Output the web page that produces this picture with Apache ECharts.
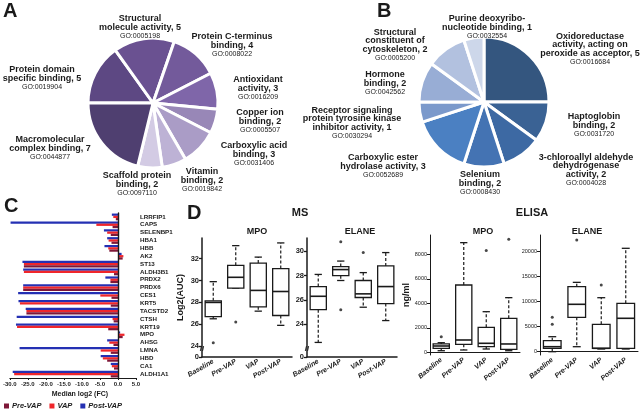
<!DOCTYPE html>
<html>
<head>
<meta charset="utf-8">
<script src="https://cdn.jsdelivr.net/npm/echarts@6/dist/echarts.min.js"></script>
<style>
  html, body { margin: 0; padding: 0; background: #fff; }
  #main { width: 640px; height: 412px; }
</style>
</head>
<body>
<div id="main"></div>
<script>
// ---- panel A: GO molecular function (pie) ----
const pieANames = ['Protein domain\nspecific binding', 'Structural\nmolecule activity', 'Protein C-terminus\nbinding',
  'Antioxidant\nactivity', 'Copper ion\nbinding', 'Carboxylic acid\nbinding', 'Vitamin\nbinding',
  'Scaffold protein\nbinding', 'Macromolecular\ncomplex binding'];
const pieACounts = [5, 5, 4, 3, 2, 3, 2, 2, 7];
const pieAGo = ['GO:0019904', 'GO:0005198', 'GO:0008022', 'GO:0016209', 'GO:0005507', 'GO:0031406',
  'GO:0019842', 'GO:0097110', 'GO:0044877'];

// ---- panel B ----
const pieBNames = ['Oxidoreductase\nactivity, acting on\nperoxide as acceptor', 'Haptoglobin\nbinding',
  '3-chloroallyl aldehyde\ndehydrogenase\nactivity', 'Selenium\nbinding', 'Carboxylic ester\nhydrolase activity',
  'Receptor signaling\nprotein tyrosine kinase\ninhibitor activity', 'Hormone\nbinding',
  'Structural\nconstituent of\ncytoskeleton', 'Purine deoxyribo-\nnucleotide binding'];
const pieBCounts = [5, 2, 2, 2, 3, 1, 2, 2, 1];
const pieBGo = ['GO:0016684', 'GO:0031720', 'GO:0004028', 'GO:0008430', 'GO:0052689', 'GO:0030294',
  'GO:0042562', 'GO:0005200', 'GO:0032554'];

// ---- panel C: median log2 fold change ----
const genes = ['LRRFIP1', 'CAPS', 'SELENBP1', 'HBA1', 'HBB', 'AK2', 'ST13', 'ALDH3B1', 'PRDX2', 'PRDX6', 'CES1',
  'KRT5', 'TACSTD2', 'CTSH', 'KRT19', 'MPO', 'AHSG', 'LMNA', 'HBD', 'CA1', 'ALDH1A1'];
const preVap = [-0.6, -1.5, -2.0, -1.8, -2.4, 1.3, -26.1, -1.1, -2.1, -26.3, -1.8, -2.0, -25.4, -1.2, -2.7, 1.3, -1.25, -2.0, -3.0, -1.1, -2.0];
const vap = [-1.3, -6.0, -3.0, -2.6, -2.7, 1.5, -26.1, -26.1, -2.1, -26.3, -4.9, -27.2, -25.4, -1.5, -28.0, 1.8, -2.4, -4.8, -4.2, -1.7, -28.8];
const postVap = [-1.7, -29.8, -3.9, -3.0, -3.75, 1.0, -26.5, -26.3, -3.5, -26.3, -27.7, -27.6, -25.6, -28.1, -28.3, 0.6, -3.0, -27.3, -4.8, -2.0, -29.2];

// ---- panel D: box plots [low, q1, median, q3, high] ----
const groups = ['Baseline', 'Pre-VAP', 'VAP', 'Post-VAP'];
const msMpoBox = [[26.5, 26.7, 28.0, 28.15, 29.9], [29.3, 29.3, 30.3, 31.4, 33.2], [27.2, 27.6, 29.1, 31.6, 32.15], [25.9, 26.8, 29.0, 31.1, 33.45]];
const msMpoOut = [[0, 24.3], [1, 26.2]];
const msElaneBox = [[22.5, 25.2, 26.3, 27.1, 28.1], [27.6, 28.0, 28.5, 28.75, 29.2], [25.4, 26.2, 26.5, 27.6, 28.25], [24.3, 25.7, 27.1, 28.8, 29.9]];
const msElaneOut = [[1, 30.8], [1, 25.2], [2, 29.9]];
const elisaMpoBox = [[130, 325, 515, 680, 785], [190, 650, 1005, 5495, 8950], [270, 460, 735, 2040, 3315], [130, 245, 680, 2775, 4460]];
const elisaMpoOut = [[0, 1275], [2, 8300], [3, 9220]];
const elisaElaneBox = [[0, 680, 1000, 2200, 3000], [1000, 6880, 9480, 13000, 13870], [540, 680, 680, 5480, 10800], [540, 680, 6680, 9680, 20680]];
const elisaElaneOut = [[0, 6870], [0, 5480], [1, 22340], [2, 13340]];

// first tick of the MS axes sits on the axis break and reads "0"
const msMpoTicks = [23, 24, 26, 28, 30, 32];
const msElaneTicks = [21.3, 24, 26, 28, 30];
const elisaMpoTicks = [0, 2000, 4000, 6000, 8000];
const elisaElaneTicks = [0, 5000, 10000, 15000, 20000];

const FONT = '"Liberation Sans", Arial, sans-serif';
const NARROW = '"Liberation Sans Narrow", "Liberation Sans", Arial, sans-serif';
const INK = '#1a1a1a';

const pieAColors = ['#5d4883', '#6a5191', '#735a9b', '#7f66a9', '#9887b7', '#aa9cc6', '#bdb2d5', '#d3cbe4', '#4f3f70'];
const pieBColors = ['#34567f', '#3a6294', '#3d69a3', '#4473b3', '#4b80c2', '#7b99cb', '#98add5', '#b2c1df', '#cdd7ea'];
// label anchors (centre of the text block)
const pieALabelPos = [[42, 78], [140, 27], [232, 45], [258, 88], [260, 121], [254, 154], [202, 180], [137, 184], [50, 148]];
const pieBLabelPos = [[590, 49], [594, 125], [586, 170], [480, 183], [383, 166], [352, 123], [385, 83], [395, 45], [487, 27]];

const chart = echarts.init(document.getElementById('main'), null, { renderer: 'canvas' });

function pieLabel(go) {
  return function (p) {
    const lines = p.name.split('\n');
    lines[lines.length - 1] += ', ' + p.value;
    return lines.map(l => '{n|' + l + '}').join('\n') + '\n{g|' + go[p.dataIndex] + '}';
  };
}
const pieRich = {
  n: { fontFamily: FONT, fontSize: 9, fontWeight: 'bold', lineHeight: 8.7, color: INK, align: 'center' },
  g: { fontFamily: FONT, fontSize: 7, lineHeight: 8.3, color: INK, align: 'center' }
};

function pieSeries(names, counts, colors, go, pos, center, start) {
  return {
    type: 'pie', center: center, radius: 65, startAngle: start, clockwise: true,
    avoidLabelOverlap: false, silent: true,
    data: names.map((n, i) => ({ name: n, value: counts[i], itemStyle: { color: colors[i] } })),
    itemStyle: { borderColor: '#fff', borderWidth: 3 },
    label: { show: true, position: 'outside', formatter: pieLabel(go), rich: pieRich },
    labelLine: { show: false },
    labelLayout: function (p) {
      return { x: pos[p.dataIndex][0], y: pos[p.dataIndex][1], align: 'center', verticalAlign: 'middle' };
    }
  };
}

function boxItem(params, api) {
  const c = api.value(0);
  const lo = api.coord([c, api.value(1)]);
  const q1 = api.coord([c, api.value(2)]);
  const md = api.coord([c, api.value(3)]);
  const q3 = api.coord([c, api.value(4)]);
  const hi = api.coord([c, api.value(5)]);
  const bw = api.size([1, 0])[0] * 0.72;
  const cap = bw * 0.45;
  const x = md[0];
  const solid = { stroke: INK, lineWidth: 1.3 };
  const dash = { stroke: INK, lineWidth: 1.2, lineDash: [3, 2] };
  return {
    type: 'group', children: [
      { type: 'line', shape: { x1: x, y1: q3[1], x2: x, y2: hi[1] }, style: dash },
      { type: 'line', shape: { x1: x, y1: q1[1], x2: x, y2: lo[1] }, style: dash },
      { type: 'line', shape: { x1: x - cap / 2, y1: hi[1], x2: x + cap / 2, y2: hi[1] }, style: solid },
      { type: 'line', shape: { x1: x - cap / 2, y1: lo[1], x2: x + cap / 2, y2: lo[1] }, style: solid },
      { type: 'rect', shape: { x: x - bw / 2, y: q3[1], width: bw, height: Math.max(q1[1] - q3[1], 0.5) },
        style: { fill: '#fff', stroke: INK, lineWidth: 1.3 } },
      { type: 'line', shape: { x1: x - bw / 2, y1: md[1], x2: x + bw / 2, y2: md[1] }, style: { stroke: INK, lineWidth: 1.6 } }
    ]
  };
}

function boxSeries(box, idx) {
  return {
    type: 'custom', xAxisIndex: idx, yAxisIndex: idx + 1, renderItem: boxItem, silent: true,
    encode: { x: 0, y: [1, 2, 3, 4, 5] },
    data: box.map((b, i) => [i].concat(b))
  };
}
function outSeries(pts, idx) {
  return {
    type: 'scatter', xAxisIndex: idx, yAxisIndex: idx + 1, symbolSize: 3, silent: true,
    itemStyle: { color: INK }, data: pts
  };
}

function boxXAxis(idx, rot, bold) {
  return {
    type: 'category', gridIndex: idx, data: groups, boundaryGap: true,
    axisLine: { lineStyle: { color: INK, width: bold ? 1.5 : 1 } },
    axisTick: { alignWithLabel: true, length: 3, lineStyle: { color: INK, width: bold ? 1.3 : 1 } },
    axisLabel: { rotate: rot, margin: 4, fontFamily: FONT, fontSize: 7, fontStyle: 'italic', fontWeight: 'bold', color: INK, interval: 0 }
  };
}
function boxYAxis(idx, min, max, ticks, bold, name, gap, zeroAt) {
  return {
    type: 'value', gridIndex: idx, min: min, max: max,
    name: name, nameLocation: 'middle', nameGap: gap,
    nameTextStyle: { fontFamily: FONT, fontSize: 9, fontWeight: 'bold', color: INK },
    splitLine: { show: false },
    axisLine: { show: true, lineStyle: { color: INK, width: bold ? 1.5 : 1 } },
    axisTick: { show: true, length: 3, customValues: ticks, lineStyle: { color: INK, width: bold ? 1.3 : 1 } },
    axisLabel: {
      customValues: ticks, margin: 3, fontFamily: FONT, fontSize: bold ? 7.5 : 5.5,
      fontWeight: bold ? 'bold' : 'normal', color: INK,
      formatter: v => (zeroAt !== null && Math.abs(v - zeroAt) < 0.01) ? '0' : String(v)
    }
  };
}

function txt(x, y, s, size, weight, align, family) {
  return {
    type: 'text', x: x, y: y, silent: true,
    style: { text: s, fill: INK, font: (weight || 'bold') + ' ' + size + 'px ' + (family || FONT),
      textAlign: align || 'left', textVerticalAlign: 'top' }
  };
}

const option = {
  animation: false,
  backgroundColor: '#fff',
  graphic: [
    txt(3, 1, 'A', 20), txt(377, 1, 'B', 20), txt(4, 196, 'C', 20), txt(187, 203, 'D', 20),
    txt(300, 207, 'MS', 11, 'bold', 'center', NARROW), txt(532, 207, 'ELISA', 11, 'bold', 'center', NARROW),
    txt(257, 227, 'MPO', 9, 'bold', 'center', NARROW), txt(360, 227, 'ELANE', 9, 'bold', 'center', NARROW),
    txt(483, 227, 'MPO', 9, 'bold', 'center', NARROW), txt(587, 227, 'ELANE', 9, 'bold', 'center', NARROW),
    txt(202, 345, '//', 8, 'bold', 'center'), txt(307, 345, '//', 8, 'bold', 'center')
  ],
  legend: {
    data: ['Pre-VAP', 'VAP', 'Post-VAP'], left: 4, top: 402, itemWidth: 5, itemHeight: 5, itemGap: 8,
    icon: 'rect', padding: 0,
    textStyle: { fontFamily: FONT, fontSize: 7.5, fontStyle: 'italic', fontWeight: 'bold', color: INK, padding: [0, 0, 0, -2] }
  },
  grid: [
    { left: 5, top: 213, width: 131, height: 165 },
    { left: 202, top: 238, width: 90, height: 119 },
    { left: 307, top: 238, width: 90, height: 119 },
    { left: 430, top: 235, width: 90, height: 120 },
    { left: 540, top: 235, width: 98, height: 120 }
  ],
  xAxis: [
    {
      type: 'value', gridIndex: 0, min: -30, max: 5, interval: 5,
      name: 'Median log2 (FC)', nameLocation: 'middle', nameGap: 13,
      nameTextStyle: { fontFamily: FONT, fontSize: 7, fontWeight: 'bold', color: INK, padding: [0, 0, 0, 14] },
      splitLine: { show: false },
      axisLine: { show: true, onZero: false, lineStyle: { color: INK, width: 1 } },
      axisTick: { show: true, length: 2, lineStyle: { color: INK } },
      axisLabel: { fontFamily: FONT, fontSize: 6, fontWeight: 'bold', color: INK, margin: 3, formatter: v => v.toFixed(1) }
    },
    boxXAxis(1, 30, true), boxXAxis(2, 30, true), boxXAxis(3, 40, false), boxXAxis(4, 40, false)
  ],
  yAxis: [
    {
      type: 'category', gridIndex: 0, data: genes, inverse: true, z: 5,
      axisLine: { show: true, onZero: true, lineStyle: { color: INK, width: 1.4 } },
      axisTick: { show: false }, axisLabel: { show: false }
    },
    {
      type: 'category', gridIndex: 0, data: genes, inverse: true, position: 'right',
      axisLine: { show: false }, axisTick: { show: false },
      axisLabel: { fontFamily: FONT, fontSize: 6.2, fontWeight: 'bold', color: INK, margin: 4, interval: 0 }
    },
    boxYAxis(1, 23, 33.9, msMpoTicks, true, 'Log2(AUC)', 17, 23),
    boxYAxis(2, 21.3, 31.1, msElaneTicks, true, '', 0, 21.3),
    boxYAxis(3, -220, 9575, elisaMpoTicks, false, 'ng/ml', 18, null),
    boxYAxis(4, -660, 23340, elisaElaneTicks, false, '', 0, null)
  ],
  series: [
    { name: 'Post-VAP', type: 'bar', xAxisIndex: 0, yAxisIndex: 0, data: postVap, itemStyle: { color: '#2430b3' },
      barGap: '0%', barCategoryGap: '14%', silent: true },
    { name: 'VAP', type: 'bar', xAxisIndex: 0, yAxisIndex: 0, data: vap, itemStyle: { color: '#f0262b' }, silent: true },
    { name: 'Pre-VAP', type: 'bar', xAxisIndex: 0, yAxisIndex: 0, data: preVap, itemStyle: { color: '#7e1838' }, silent: true },
    boxSeries(msMpoBox, 1), outSeries(msMpoOut, 1),
    boxSeries(msElaneBox, 2), outSeries(msElaneOut, 2),
    boxSeries(elisaMpoBox, 3), outSeries(elisaMpoOut, 3),
    boxSeries(elisaElaneBox, 4), outSeries(elisaElaneOut, 4),
    pieSeries(pieANames, pieACounts, pieAColors, pieAGo, pieALabelPos, [153, 103], 180),
    pieSeries(pieBNames, pieBCounts, pieBColors, pieBGo, pieBLabelPos, [484, 102], 90)
  ]
};

chart.setOption(option);
</script>
</body>
</html>
